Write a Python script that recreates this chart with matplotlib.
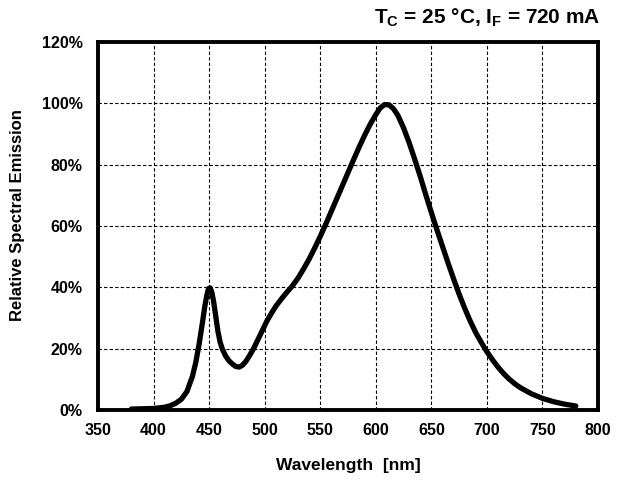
import matplotlib
matplotlib.use("Agg")
import matplotlib.pyplot as plt
from matplotlib.ticker import FuncFormatter

# Widmo (nm, %)
wavelength = [380, 390, 400, 405, 410, 415, 420, 425, 430, 435, 438, 441, 444, 446, 448,
              449.5, 451, 452.5, 454, 456, 458, 460, 462, 465, 468, 471, 474, 477, 480,
              483, 486, 490, 494, 498, 502, 506, 510, 515, 520, 525, 530, 535, 540,
              545, 550, 555, 560, 565, 570, 575, 580, 585, 590, 595, 600, 604, 608,
              612, 616, 620, 625, 630, 635, 640, 645, 650, 655, 660, 665, 670, 675,
              680, 685, 690, 695, 700, 705, 710, 715, 720, 725, 730, 740, 750, 760,
              770, 780]
emission = [0.3, 0.4, 0.5, 0.7, 0.9, 1.4, 2.2, 3.5, 6.0, 11.0, 15.5, 21.5, 28.5, 33.5, 37.5,
            39.6, 39.8, 38.3, 35.5, 30.5, 25.5, 22.0, 19.8, 17.5, 16.0, 15.0, 14.2, 14.0, 14.6,
            15.8, 17.5, 20.0, 23.0, 26.0, 29.0, 31.5, 33.8, 36.2, 38.4, 40.5, 43.0, 46.0, 49.2,
            52.8, 56.6, 60.6, 64.8, 69.0, 73.2, 77.4, 81.6, 85.7, 89.6, 93.2, 96.3, 98.5, 99.6,
            99.5, 98.2, 96.0, 92.0, 87.2, 81.8, 76.2, 70.2, 64.4, 58.8, 53.4, 48.0, 42.8, 37.8,
            33.2, 29.0, 25.2, 22.0, 19.0, 16.4, 14.0, 11.9, 10.1, 8.6, 7.3, 5.3, 3.8, 2.7,
            1.9, 1.3]

x_ticks = [350, 400, 450, 500, 550, 600, 650, 700, 750, 800]
y_ticks = [0, 20, 40, 60, 80, 100, 120]

plt.rcParams["font.family"] = ["Liberation Sans", "DejaVu Sans"]
plt.rcParams["font.weight"] = "bold"
plt.rcParams["mathtext.fontset"] = "custom"
plt.rcParams["mathtext.rm"] = "Liberation Sans:bold"
plt.rcParams["mathtext.it"] = "Liberation Sans:bold"
plt.rcParams["mathtext.bf"] = "Liberation Sans:bold"

fig = plt.figure(figsize=(6.17, 4.86), dpi=100)
ax = fig.add_axes([98 / 617, 1 - 410 / 486, 500 / 617, 368 / 486])

ax.plot(wavelength, emission, color="black", lw=3.8,
        solid_capstyle="round", solid_joinstyle="round")

ax.set_xlim(350, 800)
ax.set_ylim(0, 120)
ax.set_xticks(x_ticks)
ax.set_yticks(y_ticks)
ax.yaxis.set_major_formatter(FuncFormatter(lambda v, p: f"{v:.0f}%"))
ax.tick_params(length=0, labelsize=11.5)
ax.tick_params(axis="x", pad=9)
ax.tick_params(axis="y", pad=11)
for lab in ax.get_xticklabels() + ax.get_yticklabels():
    lab.set_fontweight("bold")

ax.grid(True, color="black", linestyle=(0, (3, 2)), linewidth=0.8)
for s in ax.spines.values():
    s.set_linewidth(2.8)
    s.set_zorder(5)

ax.set_xlabel("Wavelength  [nm]", fontsize=12.5, fontweight="bold", labelpad=15)
ax.set_ylabel("Relative Spectral Emission", fontsize=12, fontweight="bold")
ax.yaxis.set_label_coords(-0.146, 0.53)

fig.text(600 / 617, 1 - 18 / 486, r"T$_\mathrm{C}$ = 25 °C, I$_\mathrm{F}$ = 720 mA",
         ha="right", va="center", fontsize=15, fontweight="bold")

fig.savefig("out.png", dpi=100)
